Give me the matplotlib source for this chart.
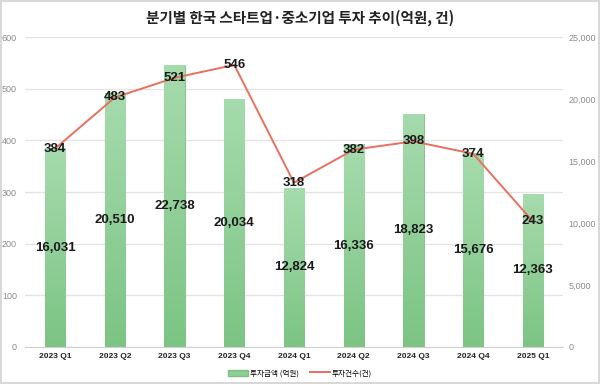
import numpy as np
import matplotlib
matplotlib.use('Agg')
import matplotlib.pyplot as plt
from matplotlib.transforms import blended_transform_factory
from matplotlib.colors import LinearSegmentedColormap
from matplotlib.patches import Patch
from matplotlib.lines import Line2D

plt.rcParams['font.family'] = ['Noto Sans CJK KR', 'DejaVu Sans']

# data
quarters = ['2023 Q1', '2023 Q2', '2023 Q3', '2023 Q4', '2024 Q1',
            '2024 Q2', '2024 Q3', '2024 Q4', '2025 Q1']
amounts = [16031, 20510, 22738, 20034, 12824, 16336, 18823, 15676, 12363]   # 억원
counts = [384, 483, 521, 546, 318, 382, 398, 374, 243]                      # 건
count_ticks = [0, 100, 200, 300, 400, 500, 600]
amount_ticks = [0, 5000, 10000, 15000, 20000, 25000]

fig = plt.figure(figsize=(6, 3.84), dpi=100)
fig.patch.set_edgecolor('#d8d8d8')
fig.patch.set_linewidth(1.5)

ax = fig.add_axes([0.042, 0.0964, 0.896, 0.8072])   # counts (left)
axb = ax.twinx()                                      # amounts (right)
ax.set_zorder(axb.get_zorder() + 1)
ax.patch.set_visible(False)

x = np.arange(len(quarters))
num_font = 'Liberation Sans'

# gridlines following left axis ticks, behind the bars
tr = blended_transform_factory(axb.transAxes, ax.transData)
for t in count_ticks:
    axb.plot([0, 1], [t, t], transform=tr, color='#e3e3e3', lw=0.9, zorder=0)

bars = axb.bar(x, amounts, width=0.34, color='#8fcf95', edgecolor='#7cbf82',
               linewidth=0.6, zorder=2)
cmap = LinearSegmentedColormap.from_list('g', ['#7cc484', '#a6dbad'])
grad = np.linspace(0, 1, 100).reshape(-1, 1)
for b in bars:
    im = axb.imshow(grad, cmap=cmap, aspect='auto', origin='lower',
                    extent=[b.get_x(), b.get_x() + b.get_width(), 0, b.get_height()],
                    zorder=2.5)
    im.set_clip_path(b)
for xi, v in zip(x, amounts):
    axb.text(xi, v / 2, f'{v:,}', ha='center', va='center', fontsize=9.5,
             fontweight='bold', color='#1a1a1a', family=num_font, zorder=4)

ax.plot(x, counts, color='#e8705f', lw=1.4, zorder=3)
for xi, v in zip(x, counts):
    ax.text(xi, v, f'{v}', ha='center', va='center', fontsize=9.5,
            fontweight='bold', color='#1a1a1a', family=num_font, zorder=4)

ax.set_xlim(-0.5, len(quarters) - 0.5)
axb.set_xlim(-0.5, len(quarters) - 0.5)
ax.set_ylim(0, 600)
axb.set_ylim(0, 25000)

ax.set_yticks(count_ticks)
ax.set_yticklabels([str(t) for t in count_ticks], family=num_font)
axb.set_yticks(amount_ticks)
axb.set_yticklabels([f'{t:,}' for t in amount_ticks], family=num_font)
ax.set_xticks(x)
ax.set_xticklabels(quarters, fontsize=6, fontweight='bold', color='#222222',
                   family=num_font)

for a in (ax, axb):
    for s in a.spines.values():
        s.set_visible(False)
    a.tick_params(axis='y', length=0, labelsize=6.5, labelcolor='#8a8a8a')
ax.tick_params(axis='y', pad=6)
axb.tick_params(axis='y', pad=4)
ax.tick_params(axis='x', length=0, pad=4)
ax.spines['bottom'].set_visible(True)
ax.spines['bottom'].set_color('#d0d0d0')

fig.text(0.5, 0.955, '분기별 한국 스타트업·중소기업 투자 추이(억원, 건)',
         ha='center', va='center', fontsize=10.5, fontweight='bold', color='#222222')

handles = [Patch(facecolor='#8fcf95', edgecolor='#7cbf82'),
           Line2D([0], [0], color='#e8705f', lw=1.4)]
fig.legend(handles, ['투자금액 (억원)', '투자건수(건)'], loc='center',
           bbox_to_anchor=(0.5, 0.028), ncol=2, frameon=False, fontsize=5.5,
           handlelength=2.6, handleheight=0.8, columnspacing=1.4, handletextpad=0.3)

fig.savefig('out.png', dpi=100)
